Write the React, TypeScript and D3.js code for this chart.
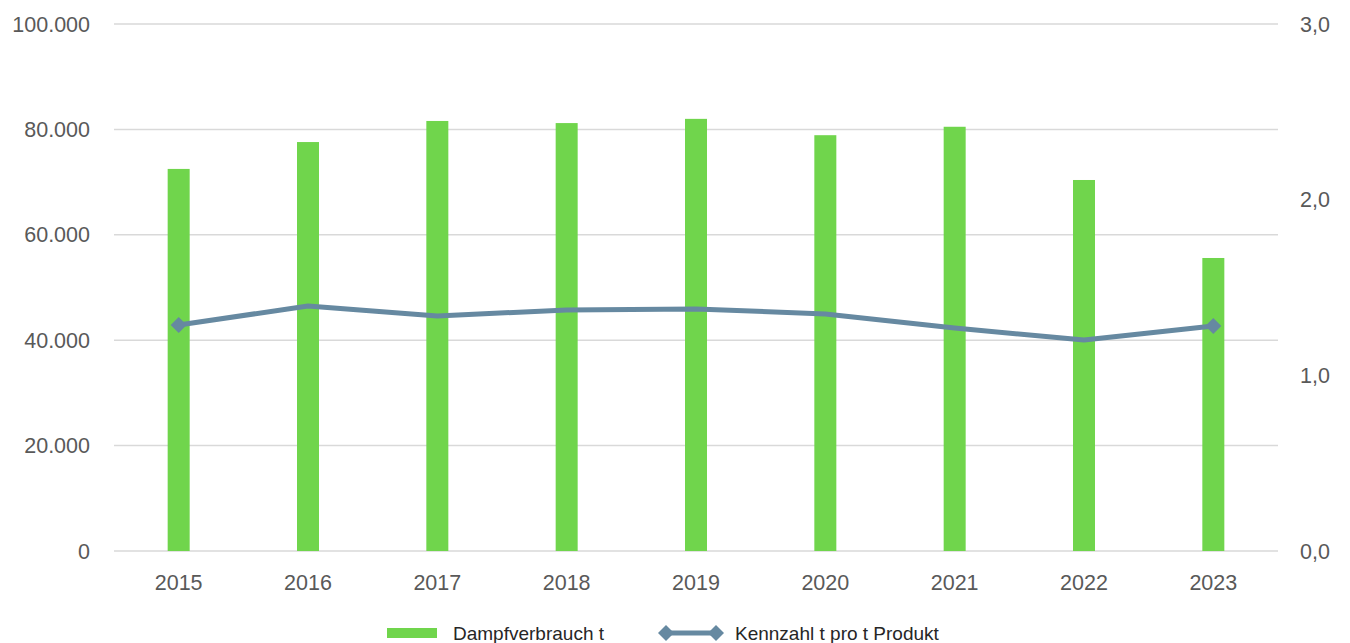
import React, { useRef, useEffect } from 'react';
import * as d3 from 'd3';

const years = ['2015', '2016', '2017', '2018', '2019', '2020', '2021', '2022', '2023'];
const steam = [72500, 77600, 81600, 81200, 82000, 78900, 80500, 70400, 55600];
const ratio = [1.286, 1.395, 1.338, 1.372, 1.378, 1.349, 1.269, 1.201, 1.281];
const leftTicks = [0, 20000, 40000, 60000, 80000, 100000];
const rightTicks = [0, 1, 2, 3];

const App: React.FC = () => {
  const svgRef = useRef<SVGSVGElement | null>(null);

  useEffect(() => {
    if (!svgRef.current) return;
    const svg = d3.select(svgRef.current);
    svg.selectAll('*').remove();

    const width = 1350;
    const height = 643;
    const left = 114;
    const right = 1278;
    const top = 24;
    const bottom = 551;

    const colors = {
      bar: '#70d54c',
      line: '#6689a1',
      grid: '#d9d9d9',
      tick: '#595959',
      legend: '#262626',
    };
    const axisFont = "'Liberation Sans', Arial, sans-serif";
    const axisSize = 21.5;

    svg.attr('width', width).attr('height', height);

    const x = d3.scaleBand<string>().domain(years).range([left, right]);
    const yL = d3.scaleLinear().domain([0, 100000]).range([bottom, top]);
    const yR = d3.scaleLinear().domain([0, 3]).range([bottom, top]);
    const fmtL = (v: number) => d3.format(',')(v).replace(/,/g, '.');
    const fmtR = (v: number) => v.toFixed(1).replace('.', ',');

    // gridlines
    svg.append('g')
      .selectAll('line')
      .data(leftTicks)
      .join('line')
      .attr('x1', left)
      .attr('x2', right)
      .attr('y1', (d) => yL(d))
      .attr('y2', (d) => yL(d))
      .attr('stroke', colors.grid)
      .attr('stroke-width', 1.5);

    // left labels
    svg.append('g')
      .selectAll('text')
      .data(leftTicks)
      .join('text')
      .attr('x', 90)
      .attr('y', (d) => yL(d))
      .attr('dy', '0.35em')
      .attr('text-anchor', 'end')
      .attr('font-family', axisFont)
      .attr('font-size', axisSize)
      .attr('fill', colors.tick)
      .text((d) => fmtL(d));

    // right labels
    svg.append('g')
      .selectAll('text')
      .data(rightTicks)
      .join('text')
      .attr('x', 1300)
      .attr('y', (d) => yR(d))
      .attr('dy', '0.35em')
      .attr('text-anchor', 'start')
      .attr('font-family', axisFont)
      .attr('font-size', axisSize)
      .attr('fill', colors.tick)
      .text((d) => fmtR(d));

    // x labels
    svg.append('g')
      .selectAll('text')
      .data(years)
      .join('text')
      .attr('x', (d) => (x(d) as number) + x.bandwidth() / 2)
      .attr('y', 582)
      .attr('dy', '0.35em')
      .attr('text-anchor', 'middle')
      .attr('font-family', axisFont)
      .attr('font-size', axisSize)
      .attr('fill', colors.tick)
      .text((d) => d);

    // bars
    const barW = 22;
    svg.append('g')
      .selectAll('rect')
      .data(steam)
      .join('rect')
      .attr('x', (_, i) => (x(years[i]) as number) + x.bandwidth() / 2 - barW / 2)
      .attr('y', (d) => yL(d))
      .attr('width', barW)
      .attr('height', (d) => bottom - yL(d))
      .attr('fill', colors.bar);

    // line
    const cx = (i: number) => (x(years[i]) as number) + x.bandwidth() / 2;
    const line = d3.line<number>()
      .x((_, i) => cx(i))
      .y((d) => yR(d));
    svg.append('path')
      .datum(ratio)
      .attr('d', line)
      .attr('fill', 'none')
      .attr('stroke', colors.line)
      .attr('stroke-width', 5)
      .attr('stroke-linejoin', 'round');

    const diamond = (px: number, py: number, s: number) =>
      `M${px},${py - s}L${px + s},${py}L${px},${py + s}L${px - s},${py}Z`;
    [0, ratio.length - 1].forEach((i) => {
      svg.append('path')
        .attr('d', diamond(cx(i), yR(ratio[i]), 8))
        .attr('fill', colors.line);
    });

    // legend
    const ly = 633;
    svg.append('rect')
      .attr('x', 387)
      .attr('y', ly - 5)
      .attr('width', 50)
      .attr('height', 10)
      .attr('fill', colors.bar);
    svg.append('text')
      .attr('x', 453)
      .attr('y', ly)
      .attr('dy', '0.35em')
      .attr('font-family', "'Liberation Sans', Arial, sans-serif")
      .attr('font-size', 19)
      .attr('fill', colors.legend)
      .text('Dampfverbrauch t');
    svg.append('line')
      .attr('x1', 666)
      .attr('x2', 716)
      .attr('y1', ly)
      .attr('y2', ly)
      .attr('stroke', colors.line)
      .attr('stroke-width', 5);
    [666, 716].forEach((px) => {
      svg.append('path')
        .attr('d', diamond(px, ly, 8))
        .attr('fill', colors.line);
    });
    svg.append('text')
      .attr('x', 735)
      .attr('y', ly)
      .attr('dy', '0.35em')
      .attr('font-family', "'Liberation Sans', Arial, sans-serif")
      .attr('font-size', 19)
      .attr('fill', colors.legend)
      .text('Kennzahl t pro t Produkt');
  }, []);

  return <svg ref={svgRef} style={{ position: 'absolute', left: 0, top: 0 }}></svg>;
};

export default App;
